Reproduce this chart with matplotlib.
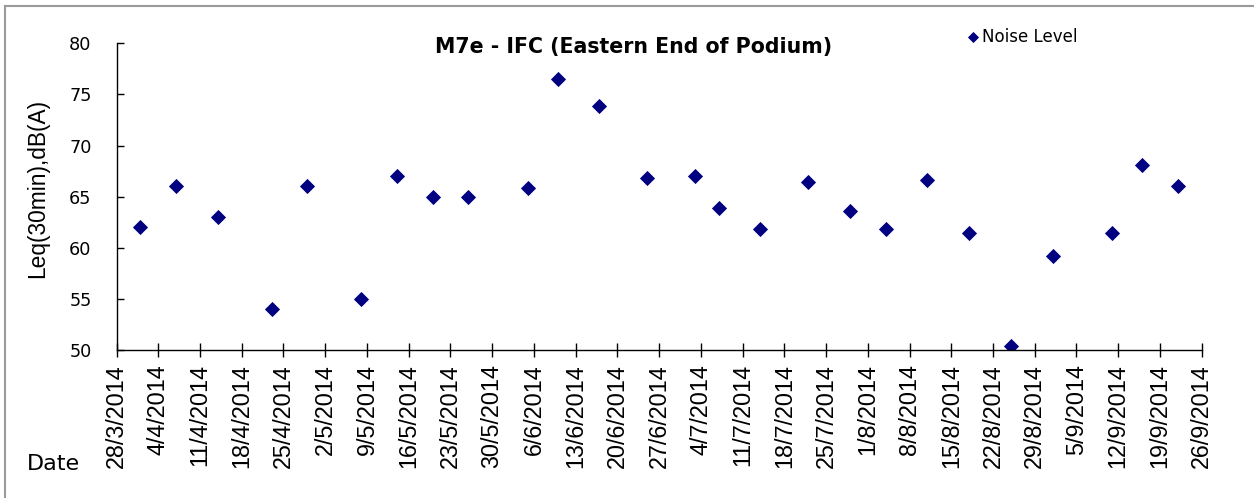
import datetime as dt

import matplotlib
matplotlib.use("Agg")
import matplotlib.dates as mdates
import matplotlib.pyplot as plt
from matplotlib.lines import Line2D
from matplotlib.ticker import FuncFormatter, MultipleLocator

# the source chart is an Excel plot stretched sideways; DejaVu Sans is close
# to that look for horizontal text, Liberation Sans for the rotated text
plt.rcParams["font.family"] = ["DejaVu Sans"]
ROTATED_FONT = ["Liberation Sans", "DejaVu Sans"]

# measurement dates (day/month, 2014) and Leq(30min) readings
dates = [
    "1/4", "7/4", "14/4", "23/4", "29/4", "8/5", "14/5", "20/5", "26/5",
    "5/6", "10/6", "17/6", "25/6", "3/7", "7/7", "14/7", "22/7", "29/7",
    "4/8", "11/8", "18/8", "25/8", "1/9", "11/9", "16/9", "22/9",
]
noise_level = [
    62.0, 66.0, 63.0, 54.0, 66.0, 55.0, 67.0, 65.0, 65.0,
    65.8, 76.5, 73.9, 66.8, 67.0, 63.9, 61.8, 66.4, 63.6,
    61.8, 66.6, 61.4, 50.4, 59.2, 61.4, 68.1, 66.0,
]
x_start = dt.date(2014, 3, 28)
x_end = dt.date(2014, 9, 26)
y_ticks = [50, 55, 60, 65, 70, 75, 80]


def parse(d):
    day, month = d.split("/")
    return dt.date(2014, int(month), int(day))


x = [parse(d) for d in dates]

W, H = 1254, 498
fig = plt.figure(figsize=(W / 100, H / 100), dpi=100)
ax = fig.add_axes([116.5 / W, 1 - 350 / H, (1201.7 - 116.5) / W, (350 - 43.3) / H])

ax.plot(x, noise_level, linestyle="none", marker="D", markersize=6.8,
        color="#000080", markeredgewidth=0.6, label="Noise Level")

ax.set_xlim(x_start, x_end)
ax.set_ylim(y_ticks[0], y_ticks[-1])
ax.set_yticks(y_ticks)

ax.xaxis.set_major_locator(MultipleLocator(7, offset=mdates.date2num(x_start) % 7))


def fmt_date(v, pos):
    d = mdates.num2date(v)
    return f"{d.day}/{d.month}/{d.year}"


ax.xaxis.set_major_formatter(FuncFormatter(fmt_date))
ax.tick_params(axis="x", direction="inout", length=10, width=1, pad=5,
               labelsize=16.8, labelrotation=90, labelfontfamily=ROTATED_FONT)
ax.tick_params(axis="y", direction="in", length=5, width=1, pad=18, labelsize=12.7)

for side in ("top", "right"):
    ax.spines[side].set_visible(False)
for side in ("left", "bottom"):
    ax.spines[side].set_linewidth(1)

fig.text(634 / W, 1 - 46.5 / H, "M7e - IFC (Eastern End of Podium)",
         ha="center", va="center", fontsize=14.8, fontweight="bold")
fig.text(38 / W, 1 - 188 / H, "Leq(30min),dB(A)", rotation=90,
         ha="center", va="center", fontsize=16.4, family=ROTATED_FONT)
fig.text(27 / W, 1 - 463.5 / H, "Date", ha="left", va="center", fontsize=16)

ax.legend(loc="center left", bbox_to_anchor=(967 / W, 1 - 37.5 / H),
          bbox_transform=fig.transFigure, frameon=False, fontsize=12,
          handlelength=0.7, handletextpad=0.2, markerscale=0.75,
          borderpad=0, borderaxespad=0)

# outer chart frame (only top and left edges are inside the picture)
fig.add_artist(Line2D([5 / W, 1], [1 - 6.5 / H, 1 - 6.5 / H],
                      transform=fig.transFigure, color="#9a9a9a", linewidth=1.5))
fig.add_artist(Line2D([5 / W, 5 / W], [0, 1 - 6.5 / H],
                      transform=fig.transFigure, color="#9a9a9a", linewidth=1.5))

fig.savefig("out.png", dpi=100)
